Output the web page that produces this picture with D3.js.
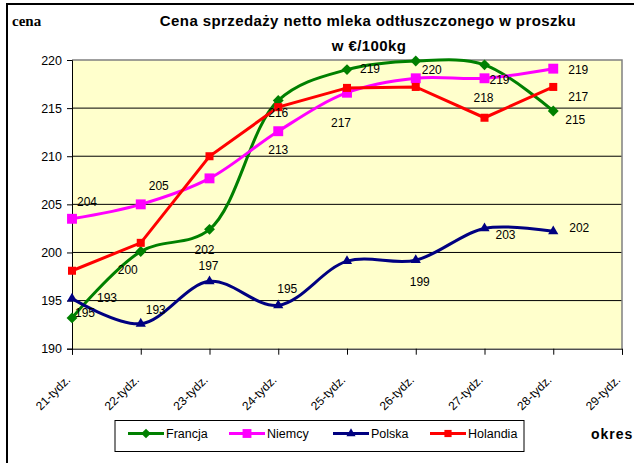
<!DOCTYPE html>
<html>
<head>
<meta charset="utf-8">
<script src="https://cdn.jsdelivr.net/npm/d3@7"></script>
<style>
  body { margin: 0; background: #fff; }
  text { font-family: Arial, "Liberation Sans", sans-serif; }
</style>
</head>
<body>
<div id="chart"></div>
<script>
// weeks on the x axis (last one has no data)
const weeks = ["21-tydz.", "22-tydz.", "23-tydz.", "24-tydz.", "25-tydz.", "26-tydz.", "27-tydz.", "28-tydz.", "29-tydz."];
const yTicks = [190, 195, 200, 205, 210, 215, 220];

// prices in EUR/100kg
const francja  = [193.2, 200.1, 202.4, 215.8, 219.0, 219.9, 219.5, 214.7];
const niemcy   = [203.5, 205.0, 207.7, 212.6, 216.6, 218.1, 218.1, 219.1];
const polska   = [195.2, 192.6, 197.0, 194.5, 199.1, 199.2, 202.5, 202.2];
const holandia = [198.1, 201.0, 210.0, 215.1, 217.1, 217.2, 214.0, 217.2];

// data labels as they appear on the chart (null = no label)
const francjaLabels  = ["195", "200", "202", "216", "219", "220", "219", "215"];
const niemcyLabels   = ["204", "205", null, "213", "217", null, "218", "219"];
const polskaLabels   = ["193", "193", "197", "195", null, "199", "203", "202"];
const holandiaLabels = [null, null, null, null, null, null, null, "217"];

// label offsets from the marker, px
const francjaOff  = [[13, -5], [-13, 18], [-5, 21], [0, 13], [23, -1], [16, 9], [15, 15], [22, 9]];
const niemcyOff   = [[15, -17], [18, -18], [0, 0], [0, 19], [-6, 30], [0, 0], [-1, 20], [25, 1]];
const polskaOff   = [[35, -1], [15, -14], [-1, -15], [9, -16], [0, 0], [4, 22], [21, 7], [26, -3]];
const holandiaOff = [[0, 0], [0, 0], [0, 0], [0, 0], [0, 0], [0, 0], [0, 0], [25, 10]];

const series = [
    { name: "Francja",  values: francja,  labels: francjaLabels,  off: francjaOff,  color: "#008000", symbol: d3.symbolDiamond2, size: 75, smooth: true },
    { name: "Niemcy",   values: niemcy,   labels: niemcyLabels,   off: niemcyOff,   color: "#FF00FF", symbol: d3.symbolSquare2,  size: 125, smooth: true },
    { name: "Polska",   values: polska,   labels: polskaLabels,   off: polskaOff,   color: "#000080", symbol: d3.symbolTriangle2, size: 75, smooth: true },
    { name: "Holandia", values: holandia, labels: holandiaLabels, off: holandiaOff, color: "#FF0000", symbol: d3.symbolSquare2,  size: 82, smooth: false }
];

const width = 634,
    height = 463,
    plot = { left: 72, right: 622, top: 60, bottom: 348.7 };

const svg = d3.select("#chart").append("svg")
    .attr("width", width)
    .attr("height", height);

// outer frame of the chart object
svg.append("rect")
    .attr("x", 7).attr("y", 4)
    .attr("width", 700).attr("height", 500)
    .attr("fill", "none")
    .attr("stroke", "#000")
    .attr("stroke-width", 2);

const x = d3.scalePoint()
    .domain(weeks)
    .range([plot.left, plot.right]);

const y = d3.scaleLinear()
    .domain([190, 220])
    .range([plot.bottom, plot.top]);

// plot area
svg.append("rect")
    .attr("x", plot.left).attr("y", plot.top)
    .attr("width", plot.right - plot.left)
    .attr("height", plot.bottom - plot.top)
    .attr("fill", "#FFFFCC");

// gridlines
svg.append("g")
    .selectAll("line")
    .data(yTicks.filter(d => d > 190 && d < 220))
    .enter()
    .append("line")
    .attr("x1", plot.left).attr("x2", plot.right)
    .attr("y1", d => y(d)).attr("y2", d => y(d))
    .attr("stroke", "#000")
    .attr("stroke-width", 1);

// grey border top / right
svg.append("path")
    .attr("d", `M${plot.left},${y(220)}H${plot.right}V${plot.bottom}`)
    .attr("fill", "none")
    .attr("stroke", "#808080")
    .attr("stroke-width", 1.5);

// y axis
const yAxis = svg.append("g")
    .attr("transform", `translate(${plot.left},0)`)
    .call(d3.axisLeft(y).tickValues(yTicks).tickSize(5).tickPadding(5));
yAxis.select(".domain").attr("stroke", "#000");
yAxis.selectAll("text")
    .style("font-family", "Arial, 'Liberation Sans', sans-serif")
    .style("font-size", "12.5px")
    .attr("fill", "#000");

// x axis
const xAxis = svg.append("g")
    .attr("transform", `translate(0,${plot.bottom})`)
    .call(d3.axisBottom(x).tickSize(6).tickFormat(""));
xAxis.select(".domain").attr("stroke", "#000");

svg.append("g")
    .selectAll("text")
    .data(weeks)
    .enter()
    .append("text")
    .attr("transform", d => `translate(${x(d) - 1},${plot.bottom + 32}) rotate(-45)`)
    .attr("text-anchor", "end")
    .style("font-size", "12px")
    .text(d => d);

// lines, markers, labels
series.forEach(s => {
    const pts = s.values.map((v, i) => [x(weeks[i]), y(v)]);
    const line = d3.line()
        .curve(s.smooth ? d3.curveCatmullRom.alpha(0.5) : d3.curveLinear);

    const g = svg.append("g").attr("class", "series");

    g.append("path")
        .attr("d", line(pts))
        .attr("fill", "none")
        .attr("stroke", s.color)
        .attr("stroke-width", 3);

    g.selectAll("path.mark")
        .data(pts)
        .enter()
        .append("path")
        .attr("class", "mark")
        .attr("d", d3.symbol().type(s.symbol).size(s.size))
        .attr("transform", d => `translate(${d[0]},${d[1]})`)
        .attr("fill", s.color);
});

series.forEach(s => {
    s.values.forEach((v, i) => {
        if (!s.labels[i]) return;
        svg.append("text")
            .attr("x", x(weeks[i]) + s.off[i][0])
            .attr("y", y(v) + s.off[i][1])
            .attr("text-anchor", "middle")
            .attr("dominant-baseline", "central")
            .style("font-size", "12px")
            .attr("fill", "#000")
            .text(s.labels[i]);
    });
});

// titles
svg.append("text")
    .attr("x", 368).attr("y", 26)
    .attr("text-anchor", "middle")
    .style("font-size", "15px")
    .style("font-weight", "bold")
    .style("letter-spacing", "0.4px")
    .text("Cena sprzedaży netto mleka odtłuszczonego w proszku");

svg.append("text")
    .attr("x", 369).attr("y", 50.5)
    .attr("text-anchor", "middle")
    .style("font-size", "15px")
    .style("font-weight", "bold")
    .style("letter-spacing", "0.4px")
    .text("w €/100kg");

svg.append("text")
    .attr("x", 12).attr("y", 26)
    .style("font-family", "'Liberation Serif', 'Times New Roman', serif")
    .style("font-size", "15px")
    .style("font-weight", "bold")
    .text("cena");

svg.append("text")
    .attr("x", 591).attr("y", 439)
    .style("font-size", "14px")
    .style("font-weight", "bold")
    .style("letter-spacing", "1px")
    .text("okres");

// legend
const legend = svg.append("g");
legend.append("rect")
    .attr("x", 115).attr("y", 420.5)
    .attr("width", 409).attr("height", 31)
    .attr("fill", "#fff")
    .attr("stroke", "#000")
    .attr("stroke-width", 1);

const legendX = [128, 229, 333, 430];
series.forEach((s, i) => {
    const lx = legendX[i], ly = 433.5;
    legend.append("line")
        .attr("x1", lx).attr("x2", lx + 36)
        .attr("y1", ly).attr("y2", ly)
        .attr("stroke", s.color)
        .attr("stroke-width", 3);
    legend.append("path")
        .attr("d", d3.symbol().type(s.symbol).size(s.size * 0.8))
        .attr("transform", `translate(${lx + 18},${ly})`)
        .attr("fill", s.color);
    legend.append("text")
        .attr("x", lx + 38).attr("y", ly)
        .attr("dominant-baseline", "central")
        .style("font-size", "12.5px")
        .text(s.name);
});
</script>
</body>
</html>
